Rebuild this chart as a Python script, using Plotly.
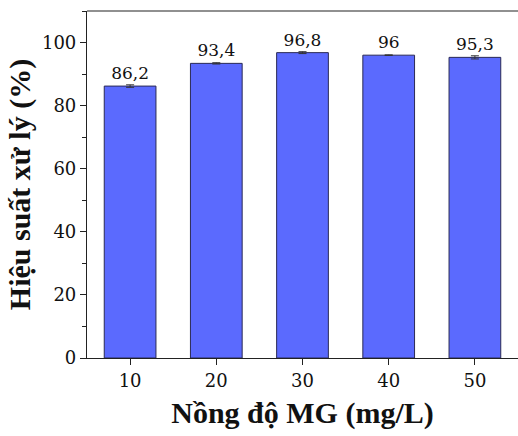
import plotly.graph_objects as go

# MG concentration (mg/L) and treatment efficiency (%)
concentration = [10, 20, 30, 40, 50]
efficiency = [86.2, 93.4, 96.8, 96.0, 95.3]
efficiency_err = [0.4, 0.2, 0.3, 0.1, 0.5]
value_labels = ["86,2", "93,4", "96,8", "96", "95,3"]
y_ticks = [0, 20, 40, 60, 80, 100]
x_ticks = [10, 20, 30, 40, 50]

FONT = "Liberation Serif"
TICK_FONT = "DejaVu Serif"

fig = go.Figure()
fig.add_trace(go.Bar(
    x=concentration,
    y=efficiency,
    width=6,
    marker=dict(color="#5B6AFE", line=dict(color="#2a2a55", width=1)),
    error_y=dict(type="data", array=efficiency_err, color="#333333",
                 thickness=1, width=4),
    text=value_labels,
    textposition="outside",
    textfont=dict(family=TICK_FONT, size=17, color="#111111"),
    cliponaxis=False,
))

fig.update_layout(
    width=518, height=436,
    margin=dict(l=87, r=0, t=11, b=78),
    plot_bgcolor="white", paper_bgcolor="white",
    showlegend=False,
    font=dict(family=FONT, color="#111111"),
    xaxis=dict(
        range=[5, 55], tickvals=x_ticks, ticktext=[str(v) for v in x_ticks],
        showgrid=False, zeroline=False,
        showline=True, linecolor="#222222", linewidth=1.2,
        ticks="outside", ticklen=6, tickcolor="#222222",
        tickfont=dict(family=TICK_FONT, size=18),
        title=dict(text="<b>Nồng độ MG (mg/L)</b>",
                   font=dict(family=FONT, size=30), standoff=12),
    ),
    yaxis=dict(
        range=[0, 110], tickvals=y_ticks,
        showgrid=False, zeroline=False,
        showline=True, linecolor="#222222", linewidth=1.2,
        ticks="outside", ticklen=6, tickcolor="#222222",
        tickfont=dict(family=TICK_FONT, size=18),
        minor=dict(tickvals=[10, 30, 50, 70, 90, 110], ticks="outside",
                   ticklen=4, tickcolor="#222222"),
        title=dict(text="<b>Hiệu suất xử lý (%)</b>",
                   font=dict(family=FONT, size=30), standoff=2),
    ),
)

# top frame line
fig.add_shape(type="line", xref="paper", yref="paper",
              x0=0, x1=1, y0=1, y1=1,
              line=dict(color="#222222", width=1.2))

fig.write_html("out.html")
